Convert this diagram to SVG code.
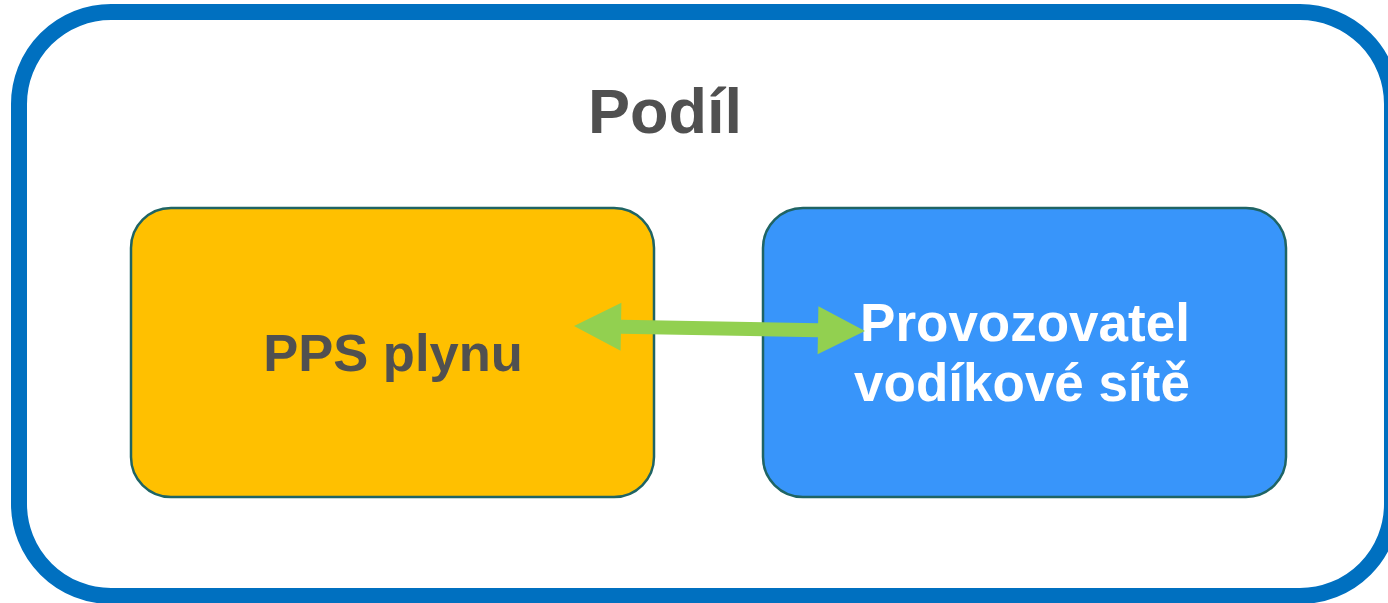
<svg xmlns="http://www.w3.org/2000/svg" width="1388" height="603" viewBox="0 0 1388 603">
  <style>
    .box { stroke: #1F6464; stroke-width: 2.5; }
    .t { font-family: "Liberation Sans", Arial, sans-serif; font-weight: bold; text-anchor: middle; }
  </style>
  <rect width="1388" height="603" fill="#FFFFFF"/>
  <g id="frame">
    <rect x="19" y="12" width="1373" height="584" rx="92" ry="92" fill="#FFFFFF" stroke="#0070C0" stroke-width="16"/>
    <text class="t" x="665" y="133" font-size="63" fill="#505050">Podíl</text>
  </g>
  <g id="node-pps">
    <rect class="box" x="131" y="208" width="523" height="289" rx="40" ry="40" fill="#FFC000"/>
    <text class="t" x="393" y="371" font-size="52.5" fill="#505050">PPS plynu</text>
  </g>
  <g id="node-provozovatel">
    <rect class="box" x="763" y="208" width="523" height="289" rx="40" ry="40" fill="#3895FA"/>
    <text class="t" x="1025" y="341" font-size="53" fill="#FFFFFF">Provozovatel</text>
    <text class="t" x="1022" y="401" font-size="53" fill="#FFFFFF">vodíkové sítě</text>
  </g>
  <g id="connectors">
    <polygon fill="#92D050" points="574,326 621.4,302.8 621.1,319.8 818.1,323.2 818.4,306.2 865,331 817.6,354.2 817.9,337.2 620.9,333.8 620.6,350.8"/>
  </g>
</svg>
